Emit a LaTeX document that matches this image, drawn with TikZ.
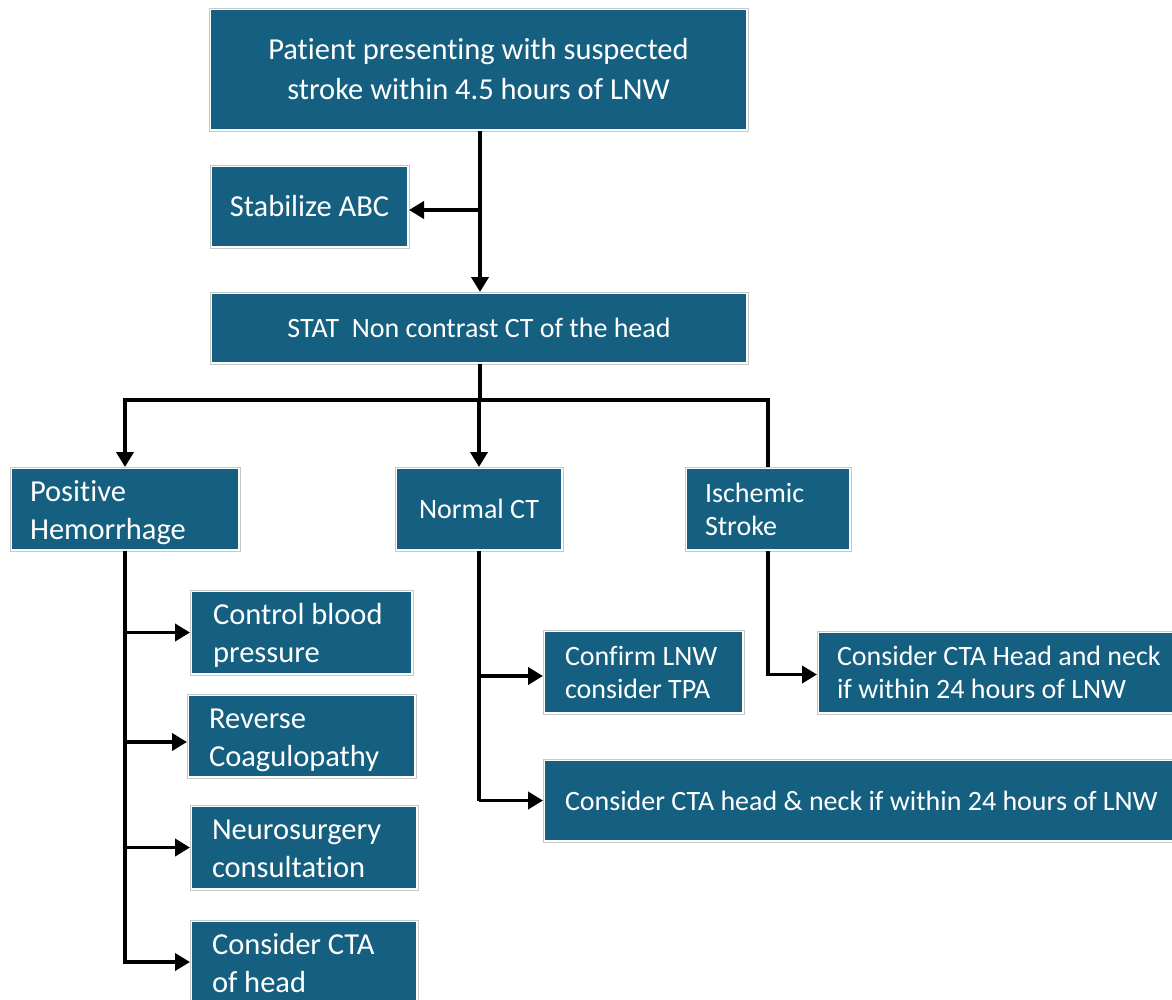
\documentclass[tikz,border=0pt]{standalone}
\usepackage{fontspec}
\setmainfont{Carlito}[Ligatures=NoCommon]
\usetikzlibrary{arrows.meta,calc}
\definecolor{boxc}{RGB}{21,96,128}
\definecolor{rimc}{RGB}{200,200,200}
\newcommand\bstrut{\rule[-8pt]{0pt}{38pt}}
\newcommand\sstrut{\rule[-7pt]{0pt}{33pt}}
\tikzset{
  box/.style={draw=rimc, line width=0.9pt, fill=white, anchor=north west,
    path picture={\fill[boxc] ([shift={(2.2pt,2.2pt)}]path picture bounding box.south west) rectangle ([shift={(-2.2pt,-2.2pt)}]path picture bounding box.north east);},
    text=white, font=\fontsize{30.5}{38}\selectfont, inner ysep=0pt, outer sep=0pt,
    execute at begin node={\spaceskip=0.226em\relax}},
  small/.style={font=\fontsize{28}{33}\selectfont},
  cbox/.style={box, align=center, inner xsep=0pt},
  lbox/.style={box, align=left},
  conn/.style={line width=3.8pt, draw=black},
  arr/.style={conn, -{Triangle[length=15pt,width=17pt]}},
}
\begin{document}
\begin{tikzpicture}[x=1pt,y=-1pt]
\useasboundingbox (0,0) rectangle (1172,999);
\node[cbox, font=\fontsize{30.5}{40}\selectfont, text width=539pt, minimum height=123pt] (top) at (209,8) {Patient presenting with suspected\\stroke within 4.5 hours of LNW};
\node[cbox, text width=199pt, minimum height=83pt] (stab) at (210,165) {Stabilize ABC};
\node[cbox, small, text width=538pt, minimum height=72pt] (stat) at (210,292) {STAT\ \ Non contrast CT of the head};
\node[lbox, inner xsep=20pt, text width=190pt, minimum height=84pt] (pos) at (10,467) {\bstrut Positive\\\bstrut Hemorrhage};
\node[cbox, small, text width=168pt, minimum height=84pt] (normal) at (395,467) {Normal CT};
\node[lbox, small, inner xsep=20pt, text width=126pt, minimum height=84pt] (isch) at (685,467) {\sstrut Ischemic\\\sstrut Stroke};
\node[lbox, inner xsep=23pt, text width=177pt, minimum height=85pt] (ctrl) at (190,590) {\bstrut Control blood\\\bstrut pressure};
\node[lbox, inner xsep=22pt, text width=185pt, minimum height=84pt] (rev) at (187,694) {\bstrut Reverse\\\bstrut Coagulopathy};
\node[lbox, inner xsep=22pt, text width=184pt, minimum height=85pt] (neuro) at (190,805) {\bstrut Neurosurgery\\\bstrut consultation};
\node[lbox, inner xsep=22pt, text width=184pt, minimum height=84pt] (ctahead) at (190,920) {\bstrut Consider CTA\\\bstrut of head};
\node[lbox, small, inner xsep=22pt, text width=157pt, minimum height=84pt] (confirm) at (543,630) {\sstrut Confirm LNW\\\sstrut consider TPA};
\node[lbox, small, inner xsep=20pt, text width=400pt, minimum height=83pt] (ctais) at (817,631) {\sstrut Consider CTA Head and neck\\\sstrut if within 24 hours of LNW};
\node[lbox, small, inner xsep=22pt, text width=700pt, minimum height=83pt] (ctan) at (543,759) {Consider CTA head \& neck if within 24 hours of LNW};
% connectors
\coordinate (bus) at (480,400);
\coordinate (stabin) at ($(stab.east)+(0,3.5)$);
\draw[arr] (top.south -| bus) -- (stat.north -| bus);
\draw[arr] (bus |- stabin) -- (stabin);
\draw[conn] (stat.south -| bus) -- (bus);
\draw[conn, line cap=rect] (pos.north |- bus) -- (isch.north |- bus);
\draw[arr] (pos.north |- bus) -- (pos.north);
\draw[arr] (normal.north |- bus) -- (normal.north);
\draw[conn] (isch.north |- bus) -- (isch.north);
% hemorrhage spine
\coordinate (revy) at ($(rev.west)+(0,6)$);
\draw[conn] (pos.south) -- (pos.south |- ctahead.west);
\draw[arr] (pos.south |- ctrl.west) -- (ctrl.west);
\draw[arr] (pos.south |- revy) -- (revy);
\draw[arr] (pos.south |- neuro.west) -- (neuro.west);
\draw[arr, line cap=rect] (pos.south |- ctahead.west) -- (ctahead.west);
% normal spine
\coordinate (confy) at ($(confirm.west)+(0,4)$);
\draw[conn] (normal.south) -- (normal.south |- ctan.west);
\draw[arr] (normal.south |- confy) -- (confy);
\draw[arr] (normal.south |- ctan.west) -- (ctan.west);
% ischemic
\coordinate (isy) at ($(ctais.west)+(0,2)$);
\draw[arr] (isch.south) -- (isch.south |- isy) -- (isy);
\end{tikzpicture}
\end{document}
